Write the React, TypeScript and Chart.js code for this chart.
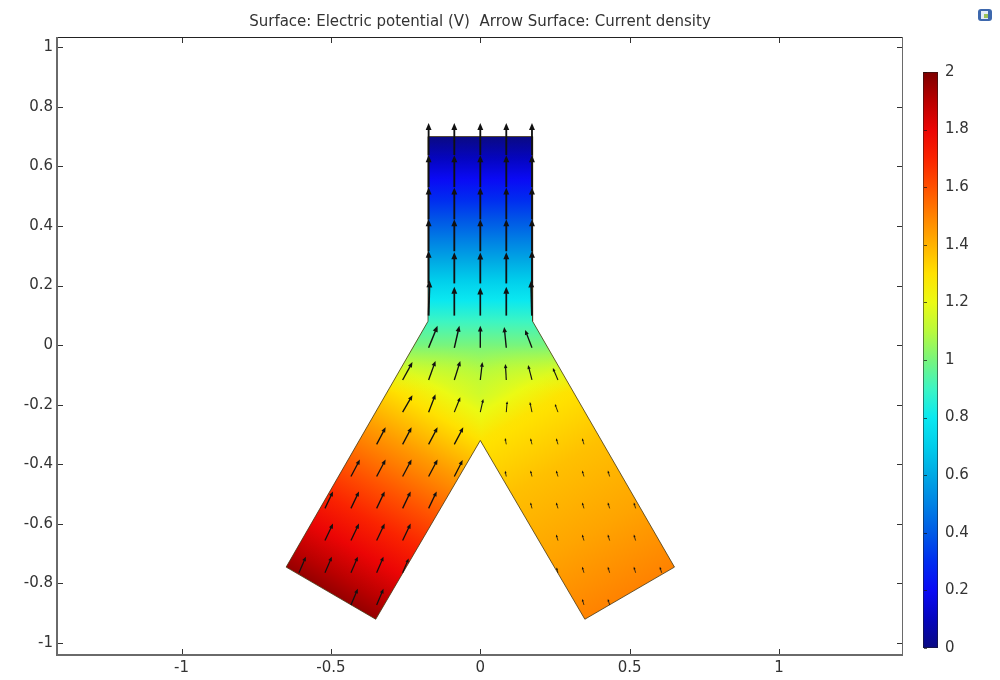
import React, { useEffect, useRef } from "react";
import { Chart, registerables } from "chart.js";

Chart.register(...registerables);

// ---------- axes ----------
const X_TICKS = [-1, -0.5, 0, 0.5, 1];
const Y_TICKS = [-1, -0.8, -0.6, -0.4, -0.2, 0, 0.2, 0.4, 0.6, 0.8, 1];
const COLORBAR_TICKS = [0, 0.2, 0.4, 0.6, 0.8, 1, 1.2, 1.4, 1.6, 1.8, 2];
const X_RANGE = [-1.417, 1.415];
const Y_RANGE = [-1.04, 1.034];
const TITLE = "Surface: Electric potential (V)  Arrow Surface: Current density";

// ---------- geometry (outline of the Y-shaped conductor) ----------
const OUTLINE_X = [-0.175, 0.175, 0.175, 0.65, 0.35, 0, -0.35, -0.65, -0.175, -0.175];
const OUTLINE_Y = [0.7, 0.7, 0.08, -0.745, -0.92, -0.32, -0.92, -0.745, 0.08, 0.7];

// sub-regions used for the potential surface
const LEFT_REGION_X = [-0.175, 0.01, 0.01, 0, -0.35, -0.65];
const LEFT_REGION_Y = [0.08, 0.08, -0.337, -0.32, -0.92, -0.745];
const RIGHT_REGION_X = [0.175, 0, 0, 0.35, 0.65];
const RIGHT_REGION_Y = [0.08, 0.08, -0.32, -0.92, -0.745];
const STEM_REGION_X = [-0.175, 0.175, 0.175, -0.175];
const STEM_REGION_Y = [0.7, 0.7, 0.06, 0.06];
const JUNCTION_REGION_X = [-0.175, 0.175, 0.313, -0.313];
const JUNCTION_REGION_Y = [0.08, 0.08, -0.16, -0.16];

// ---------- electric potential (V) ----------
// along the left leg axis, distance from its bottom edge
const LEFT_LEG_D = [0, 0.17, 0.3, 0.42, 0.55, 0.694, 0.8, 0.88, 0.95, 1.06];
const LEFT_LEG_V = [1.96, 1.8, 1.68, 1.57, 1.45, 1.3, 1.17, 1.1, 1.02, 0.9];
// along the right leg axis
const RIGHT_LEG_D = [0, 0.24, 0.49, 0.62, 0.694, 0.8, 0.88, 0.95, 1.06];
const RIGHT_LEG_V = [1.5, 1.43, 1.37, 1.32, 1.29, 1.17, 1.1, 1.02, 0.9];
// along the stem (by y)
const STEM_Y = [0.7, 0.4, 0.2, 0.08, 0.0];
const STEM_V = [0.0, 0.42, 0.73, 0.9, 1.0];
// junction (by y), blended over the legs
const JUNCTION_Y = [0.08, 0.0, -0.08, -0.16];
const JUNCTION_V = [0.9, 1.0, 1.1, 1.2];
const JUNCTION_ALPHA = [1, 1, 0.5, 0];

// ---------- colour table (Rainbow) ----------
const CMAP_V = [0, 0.1, 0.2, 0.3, 0.4, 0.5, 0.6, 0.7, 0.8, 0.9, 1.0, 1.1, 1.2, 1.3, 1.4, 1.5, 1.6, 1.7, 1.8, 1.9, 2.0];
const CMAP_RGB = [
  [10, 10, 130], [5, 5, 190], [10, 10, 245], [0, 45, 240], [0, 90, 230], [0, 130, 228],
  [0, 168, 228], [0, 205, 235], [10, 232, 240], [60, 245, 195], [120, 245, 125],
  [185, 250, 60], [235, 250, 20], [255, 225, 0], [255, 178, 0], [255, 130, 0],
  [255, 80, 0], [250, 35, 0], [235, 5, 5], [185, 0, 0], [125, 0, 0],
];

// ---------- current density arrows [x, y, u, v] ----------
const STEM_ARROWS = [
  [-0.173, 0.638, 0, 0.107], [-0.087, 0.638, 0, 0.107], [0, 0.638, 0, 0.107], [0.087, 0.638, 0, 0.107], [0.173, 0.638, 0, 0.107],
  [-0.173, 0.53, 0, 0.107], [-0.087, 0.53, 0, 0.107], [0, 0.53, 0, 0.107], [0.087, 0.53, 0, 0.107], [0.173, 0.53, 0, 0.107],
  [-0.173, 0.422, 0, 0.107], [-0.087, 0.422, 0, 0.107], [0, 0.422, 0, 0.107], [0.087, 0.422, 0, 0.107], [0.173, 0.422, 0, 0.107],
  [-0.173, 0.315, 0, 0.107], [-0.087, 0.315, 0, 0.107], [0, 0.315, 0, 0.107], [0.087, 0.315, 0, 0.107], [0.173, 0.315, 0, 0.107],
  [-0.173, 0.207, 0, 0.11], [-0.087, 0.207, 0, 0.105], [0, 0.207, 0, 0.104], [0.087, 0.207, 0, 0.105], [0.173, 0.207, 0, 0.11],
  [-0.173, 0.099, 0.003, 0.118], [-0.087, 0.099, 0, 0.097], [0, 0.099, 0, 0.094], [0.087, 0.099, 0, 0.097], [0.173, 0.099, -0.003, 0.118],
];
const JUNCTION_ARROWS = [
  [-0.173, -0.009, 0.03, 0.074], [-0.087, -0.009, 0.017, 0.074], [0, -0.009, 0, 0.074], [0.087, -0.009, -0.007, 0.07], [0.173, -0.009, -0.023, 0.06],
  [-0.26, -0.117, 0.033, 0.06], [-0.173, -0.117, 0.023, 0.064], [-0.087, -0.117, 0.02, 0.064], [0, -0.117, 0.007, 0.06],
  [0.087, -0.117, -0.003, 0.054], [0.173, -0.117, -0.013, 0.05], [0.26, -0.117, -0.017, 0.04],
  [-0.26, -0.225, 0.033, 0.057], [-0.173, -0.225, 0.023, 0.06], [-0.087, -0.225, 0.02, 0.05], [0, -0.225, 0.01, 0.044],
  [0.087, -0.225, 0.003, 0.037], [0.173, -0.225, -0.007, 0.034], [0.26, -0.225, -0.01, 0.027],
];
const LEFT_LEG_ARROWS = [
  [-0.347, -0.333, 0.03, 0.057], [-0.26, -0.333, 0.03, 0.057], [-0.173, -0.333, 0.03, 0.057], [-0.087, -0.333, 0.03, 0.057],
  [-0.433, -0.441, 0.03, 0.057], [-0.347, -0.441, 0.03, 0.057], [-0.26, -0.441, 0.03, 0.057], [-0.173, -0.441, 0.03, 0.057], [-0.087, -0.441, 0.028, 0.055],
  [-0.52, -0.548, 0.027, 0.057], [-0.433, -0.548, 0.027, 0.057], [-0.347, -0.548, 0.027, 0.057], [-0.26, -0.548, 0.027, 0.057], [-0.173, -0.548, 0.027, 0.057],
  [-0.52, -0.656, 0.027, 0.057], [-0.433, -0.656, 0.027, 0.057], [-0.347, -0.656, 0.027, 0.057], [-0.26, -0.656, 0.027, 0.057],
  [-0.607, -0.764, 0.023, 0.054], [-0.52, -0.764, 0.023, 0.054], [-0.433, -0.764, 0.023, 0.054], [-0.347, -0.764, 0.023, 0.054], [-0.26, -0.764, 0.02, 0.048],
  [-0.433, -0.872, 0.023, 0.054], [-0.347, -0.872, 0.023, 0.054],
];
const RIGHT_LEG_ARROWS = [
  [0.087, -0.333, -0.004, 0.021], [0.173, -0.333, -0.005, 0.02], [0.26, -0.333, -0.006, 0.02], [0.347, -0.333, -0.006, 0.02],
  [0.087, -0.441, -0.004, 0.019], [0.173, -0.441, -0.005, 0.02], [0.26, -0.441, -0.006, 0.02], [0.347, -0.441, -0.006, 0.02], [0.433, -0.441, -0.006, 0.02],
  [0.173, -0.548, -0.005, 0.02], [0.26, -0.548, -0.006, 0.02], [0.347, -0.548, -0.006, 0.02], [0.433, -0.548, -0.006, 0.02], [0.52, -0.548, -0.006, 0.02],
  [0.26, -0.656, -0.006, 0.02], [0.347, -0.656, -0.006, 0.02], [0.433, -0.656, -0.006, 0.02], [0.52, -0.656, -0.006, 0.02],
  [0.26, -0.764, -0.005, 0.018], [0.347, -0.764, -0.006, 0.02], [0.433, -0.764, -0.006, 0.02], [0.52, -0.764, -0.006, 0.02], [0.607, -0.764, -0.006, 0.02],
  [0.347, -0.872, -0.006, 0.02], [0.433, -0.872, -0.006, 0.02],
];
const ARROW_SETS = [STEM_ARROWS, JUNCTION_ARROWS, LEFT_LEG_ARROWS, RIGHT_LEG_ARROWS];

// ---------- helpers ----------
const FONT = "DejaVu Sans";
const TEXT = "#333";

function cmap(v: number): number[] {
  const vv = Math.max(CMAP_V[0], Math.min(CMAP_V[CMAP_V.length - 1], v));
  for (let i = 0; i < CMAP_V.length - 1; i++) {
    if (vv <= CMAP_V[i + 1]) {
      const f = (vv - CMAP_V[i]) / (CMAP_V[i + 1] - CMAP_V[i]);
      const a = CMAP_RGB[i], b = CMAP_RGB[i + 1];
      return [0, 1, 2].map((k) => a[k] + (b[k] - a[k]) * f);
    }
  }
  return CMAP_RGB[CMAP_RGB.length - 1];
}
function rgba(v: number, a: number) {
  const c = cmap(v);
  return `rgba(${Math.round(c[0])},${Math.round(c[1])},${Math.round(c[2])},${a})`;
}

function makeGradient(chart: any, x0: number, y0: number, x1: number, y1: number,
  ts: number[], vs: number[], as?: number[]) {
  const { ctx, scales } = chart;
  const sx = scales.x, sy = scales.y;
  const g = ctx.createLinearGradient(
    sx.getPixelForValue(x0), sy.getPixelForValue(y0),
    sx.getPixelForValue(x1), sy.getPixelForValue(y1));
  const clamp = (t: number) => Math.max(0, Math.min(1, t));
  for (let i = 0; i < ts.length; i++) {
    const ai = as ? as[i] : 1;
    g.addColorStop(clamp(ts[i]), rgba(vs[i], ai));
    if (i < ts.length - 1) {
      const va = vs[i], vb = vs[i + 1];
      const aj = as ? as[i + 1] : 1;
      const mids: number[] = [];
      for (const k of CMAP_V) if ((k - va) * (k - vb) < 0) mids.push((k - va) / (vb - va));
      mids.sort((p, q) => p - q);
      for (const f of mids) {
        const v = va + f * (vb - va);
        g.addColorStop(clamp(ts[i] + f * (ts[i + 1] - ts[i])), rgba(v, ai + f * (aj - ai)));
      }
    }
  }
  return g;
}

function legGradient(chart: any, side: number) {
  if (!chart.chartArea) return "rgba(0,0,0,0)";
  const ds = side < 0 ? LEFT_LEG_D : RIGHT_LEG_D;
  const vs = side < 0 ? LEFT_LEG_V : RIGHT_LEG_V;
  const len = ds[ds.length - 1];
  const bx = 0.5 * side, by = -0.8325;
  const dx = -0.5 * side, dy = 0.866;
  return makeGradient(chart, bx, by, bx + dx * len, by + dy * len, ds.map((d) => d / len), vs);
}
function stemGradient(chart: any) {
  if (!chart.chartArea) return "rgba(0,0,0,0)";
  const y0 = STEM_Y[0], y1 = STEM_Y[STEM_Y.length - 1];
  return makeGradient(chart, 0, y0, 0, y1, STEM_Y.map((y) => (y0 - y) / (y0 - y1)), STEM_V);
}
function junctionGradient(chart: any) {
  if (!chart.chartArea) return "rgba(0,0,0,0)";
  const y0 = JUNCTION_Y[0], y1 = JUNCTION_Y[JUNCTION_Y.length - 1];
  return makeGradient(chart, 0, y0, 0, y1, JUNCTION_Y.map((y) => (y0 - y) / (y0 - y1)), JUNCTION_V, JUNCTION_ALPHA);
}

const pts = (xs: number[], ys: number[]) => xs.map((x, i) => ({ x, y: ys[i] }));

// ---------- plugins ----------
const arrowPlugin = {
  id: "arrows",
  afterDatasetsDraw(chart: any) {
    const { ctx, scales } = chart;
    const sx = scales.x, sy = scales.y;
    ctx.save();
    ctx.fillStyle = "#111";
    ctx.strokeStyle = "#111";
    ctx.lineCap = "butt";
    for (const set of ARROW_SETS) {
      for (const [ax, ay, u, v] of set) {
        const x0 = sx.getPixelForValue(ax), y0 = sy.getPixelForValue(ay);
        const x1 = sx.getPixelForValue(ax + u), y1 = sy.getPixelForValue(ay + v);
        const dx = x1 - x0, dy = y1 - y0;
        const L = Math.hypot(dx, dy);
        if (L < 0.5) continue;
        const ux = dx / L, uy = dy / L;
        const hl = Math.min(7, Math.max(2.5, L * 0.26));
        const hw = hl * 0.42;
        const bx = x1 - ux * hl, by = y1 - uy * hl;
        ctx.lineWidth = Math.min(1.9, Math.max(0.8, 0.5 + L * 0.042));
        ctx.beginPath();
        ctx.moveTo(x0, y0);
        ctx.lineTo(bx + ux * 0.5, by + uy * 0.5);
        ctx.stroke();
        ctx.beginPath();
        ctx.moveTo(x1, y1);
        ctx.lineTo(bx - uy * hw, by + ux * hw);
        ctx.lineTo(bx + uy * hw, by - ux * hw);
        ctx.closePath();
        ctx.fill();
      }
    }
    ctx.restore();
  },
};

const framePlugin = {
  id: "frame",
  afterDraw(chart: any) {
    const { ctx, chartArea: a, scales } = chart;
    const sx = scales.x, sy = scales.y;
    const L = Math.round(a.left), R = Math.round(a.right), T = Math.round(a.top), B = Math.round(a.bottom);
    ctx.save();
    // frame
    ctx.fillStyle = "#222";
    ctx.fillRect(L, T, R - L, 1);
    ctx.fillStyle = "#6a6a6a";
    ctx.fillRect(R - 1, T, 1, B - T);
    ctx.fillRect(L - 1, T, 2, B - T + 1);
    ctx.fillRect(L - 1, B - 1, R - L + 1, 2);
    // inward ticks on all four sides
    ctx.fillStyle = "#333";
    for (const v of X_TICKS) {
      const px = Math.round(sx.getPixelForValue(v));
      ctx.fillRect(px, B - 6, 1, 5);
      ctx.fillRect(px, T + 1, 1, 5);
    }
    for (const v of Y_TICKS) {
      const py = Math.round(sy.getPixelForValue(v));
      ctx.fillRect(L + 1, py, 5, 1);
      ctx.fillRect(R - 6, py, 5, 1);
    }

    // colour legend
    const cx0 = R + 20, cw = 15, ctop = 72, cbot = 648;
    const g = ctx.createLinearGradient(0, cbot, 0, ctop);
    const vmin = COLORBAR_TICKS[0], vmax = COLORBAR_TICKS[COLORBAR_TICKS.length - 1];
    CMAP_V.forEach((v) => g.addColorStop((v - vmin) / (vmax - vmin), rgba(v, 1)));
    ctx.fillStyle = g;
    ctx.fillRect(cx0, ctop, cw, cbot - ctop);
    ctx.strokeStyle = "rgba(30,30,30,0.55)";
    ctx.lineWidth = 1;
    ctx.strokeRect(cx0 + 0.5, ctop + 0.5, cw - 1, cbot - ctop - 1);
    ctx.font = `15px "${FONT}"`;
    ctx.textAlign = "left";
    ctx.textBaseline = "middle";
    for (const v of COLORBAR_TICKS) {
      const py = cbot - ((v - vmin) / (vmax - vmin)) * (cbot - ctop);
      ctx.fillStyle = "rgba(20,20,20,0.7)";
      ctx.fillRect(cx0 + 1, Math.round(py), 3, 1);
      ctx.fillStyle = TEXT;
      ctx.fillText(String(Number(v.toFixed(1))), cx0 + cw + 7, py);
    }

    // small toolbar icon in the corner
    ctx.fillStyle = "#3d68ad";
    ctx.beginPath();
    (ctx as any).roundRect ? (ctx as any).roundRect(978, 9, 14, 12, 3) : ctx.rect(978, 9, 14, 12);
    ctx.fill();
    ctx.fillStyle = "#e4ecf6";
    ctx.fillRect(981, 11, 7, 8);
    ctx.fillStyle = "#9bc35a";
    ctx.fillRect(984, 14, 4, 4);
    ctx.restore();
  },
};

// ---------- component ----------
export default function App() {
  const ref = useRef<HTMLCanvasElement | null>(null);

  useEffect(() => {
    if (!ref.current) return;
    const fillSet = (label: string, xs: number[], ys: number[], bg: any, order: number) => ({
      label,
      data: pts(xs, ys),
      fill: "shape",
      backgroundColor: bg,
      borderColor: "rgba(0,0,0,0)",
      borderWidth: 0,
      pointRadius: 0,
      order,
    });
    const chart = new Chart(ref.current, {
      type: "line",
      data: {
        datasets: [
          {
            label: "outline",
            data: pts(OUTLINE_X, OUTLINE_Y),
            fill: false,
            borderColor: "rgba(70,55,20,0.8)",
            borderWidth: 1,
            pointRadius: 0,
            order: 1,
          },
          fillSet("junction", JUNCTION_REGION_X, JUNCTION_REGION_Y, (c: any) => junctionGradient(c.chart), 2),
          fillSet("stem", STEM_REGION_X, STEM_REGION_Y, (c: any) => stemGradient(c.chart), 3),
          fillSet("right leg", RIGHT_REGION_X, RIGHT_REGION_Y, (c: any) => legGradient(c.chart, 1), 4),
          fillSet("left leg", LEFT_REGION_X, LEFT_REGION_Y, (c: any) => legGradient(c.chart, -1), 5),
        ] as any,
      },
      options: {
        responsive: false,
        maintainAspectRatio: false,
        animation: false,
        events: [],
        layout: { padding: { left: 0, right: 97, top: 0, bottom: 0 } },
        plugins: {
          legend: { display: false },
          tooltip: { enabled: false },
          title: {
            display: true,
            text: TITLE,
            fullSize: false,
            color: TEXT,
            font: { family: FONT, size: 15, weight: "normal" },
            padding: { top: 13, bottom: 6 },
          },
        },
        scales: {
          x: {
            type: "linear",
            min: X_RANGE[0],
            max: X_RANGE[1],
            grid: { display: false, drawTicks: false },
            border: { display: false },
            afterBuildTicks: (s: any) => { s.ticks = X_TICKS.map((value) => ({ value })); },
            afterFit: (s: any) => { s.height = 25; },
            ticks: {
              color: TEXT,
              padding: 4,
              maxRotation: 0,
              autoSkip: false,
              font: { family: FONT, size: 15 },
              callback: (v: any) => String(Number(Number(v).toFixed(1))),
            },
          },
          y: {
            type: "linear",
            min: Y_RANGE[0],
            max: Y_RANGE[1],
            grid: { display: false, drawTicks: false },
            border: { display: false },
            afterBuildTicks: (s: any) => { s.ticks = Y_TICKS.map((value) => ({ value })); },
            afterFit: (s: any) => { s.width = 57; },
            ticks: {
              color: TEXT,
              padding: 4,
              autoSkip: false,
              font: { family: FONT, size: 15 },
              callback: (v: any) => String(Number(Number(v).toFixed(1))),
            },
          },
        },
      } as any,
      plugins: [arrowPlugin, framePlugin],
    });
    return () => chart.destroy();
  }, []);

  return (
    <div style={{ position: "absolute", left: 0, top: 0, width: 1000, height: 680, background: "#fff" }}>
      <canvas ref={ref} width={1000} height={680} style={{ display: "block" }} />
    </div>
  );
}
